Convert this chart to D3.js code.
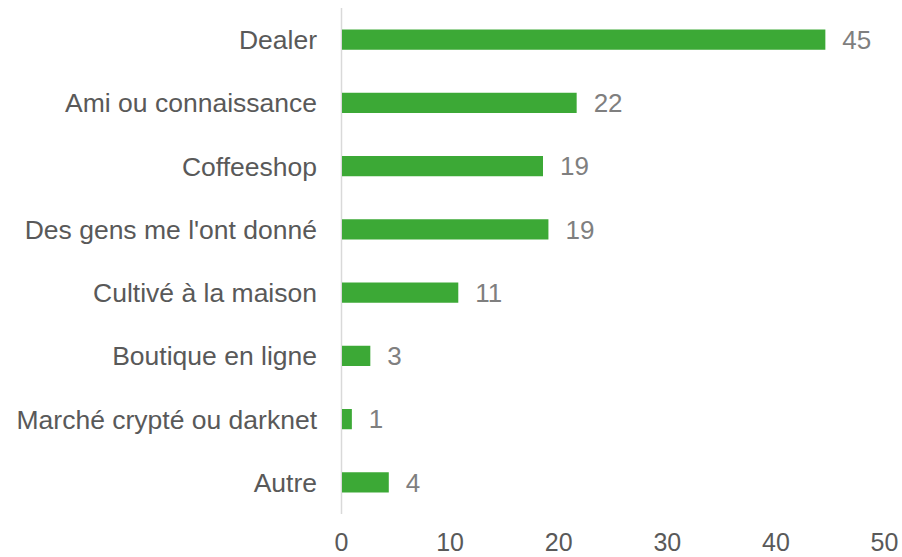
<!DOCTYPE html>
<html>
<head>
<meta charset="utf-8">
<script src="https://cdn.jsdelivr.net/npm/d3@7"></script>
<style>
  body { margin: 0; background: #fff; }
  text { font-family: "Liberation Sans", Arial, sans-serif; }
</style>
</head>
<body>
<script>
var categories = ["Dealer", "Ami ou connaissance", "Coffeeshop", "Des gens me l'ont donné",
  "Cultivé à la maison", "Boutique en ligne", "Marché crypté ou darknet", "Autre"];
var values = [44.6, 21.7, 18.6, 19.1, 10.8, 2.7, 1.0, 4.4];
var xTicks = [0, 10, 20, 30, 40, 50];

var w = 902;
var h = 557;

var svg = d3.select("body")
  .append("svg")
  .attr("width", w)
  .attr("height", h);

var xScale = d3.scaleLinear()
  .domain([0, 50])
  .range([341, 884]);

var yScale = d3.scaleBand()
  .domain(categories)
  .range([8, 514])
  .paddingInner(0.68)
  .paddingOuter(0.34);

// axis line
svg.append("line")
  .attr("x1", xScale(0) + 0.5)
  .attr("x2", xScale(0) + 0.5)
  .attr("y1", 8)
  .attr("y2", 514)
  .attr("stroke", "#d9d9d9")
  .attr("stroke-width", 1.5);

svg.selectAll("rect")
  .data(values)
  .enter()
  .append("rect")
  .attr("x", xScale(0) + 1)
  .attr("y", function(d, i) { return yScale(categories[i]); })
  .attr("width", function(d) { return xScale(d) - xScale(0) - 1; })
  .attr("height", yScale.bandwidth())
  .attr("fill", "#3ca936");

var fmt = d3.format(".0f");

svg.selectAll(".val")
  .data(values)
  .enter()
  .append("text")
  .attr("class", "val")
  .attr("x", function(d) { return xScale(d) + 17; })
  .attr("y", function(d, i) { return yScale(categories[i]) + yScale.bandwidth() / 2; })
  .attr("dy", "0.36em")
  .attr("font-size", 26)
  .attr("fill", "#7f7f7f")
  .text(function(d) { return fmt(d); });

svg.selectAll(".cat")
  .data(categories)
  .enter()
  .append("text")
  .attr("class", "cat")
  .attr("x", xScale(0) - 24)
  .attr("y", function(d) { return yScale(d) + yScale.bandwidth() / 2; })
  .attr("dy", "0.36em")
  .attr("text-anchor", "end")
  .attr("font-size", 26.5)
  .attr("fill", "#595959")
  .text(function(d) { return d; });

var xAxis = d3.axisBottom(xScale)
  .tickValues(xTicks)
  .tickSize(0)
  .tickPadding(0);

var gx = svg.append("g")
  .attr("transform", "translate(0,533)")
  .call(xAxis);
gx.select(".domain").remove();
gx.selectAll("text")
  .attr("dy", "0.71em")
  .attr("font-size", 25)
  .attr("font-family", "Liberation Sans, Arial, sans-serif")
  .attr("fill", "#595959");
</script>
</body>
</html>
